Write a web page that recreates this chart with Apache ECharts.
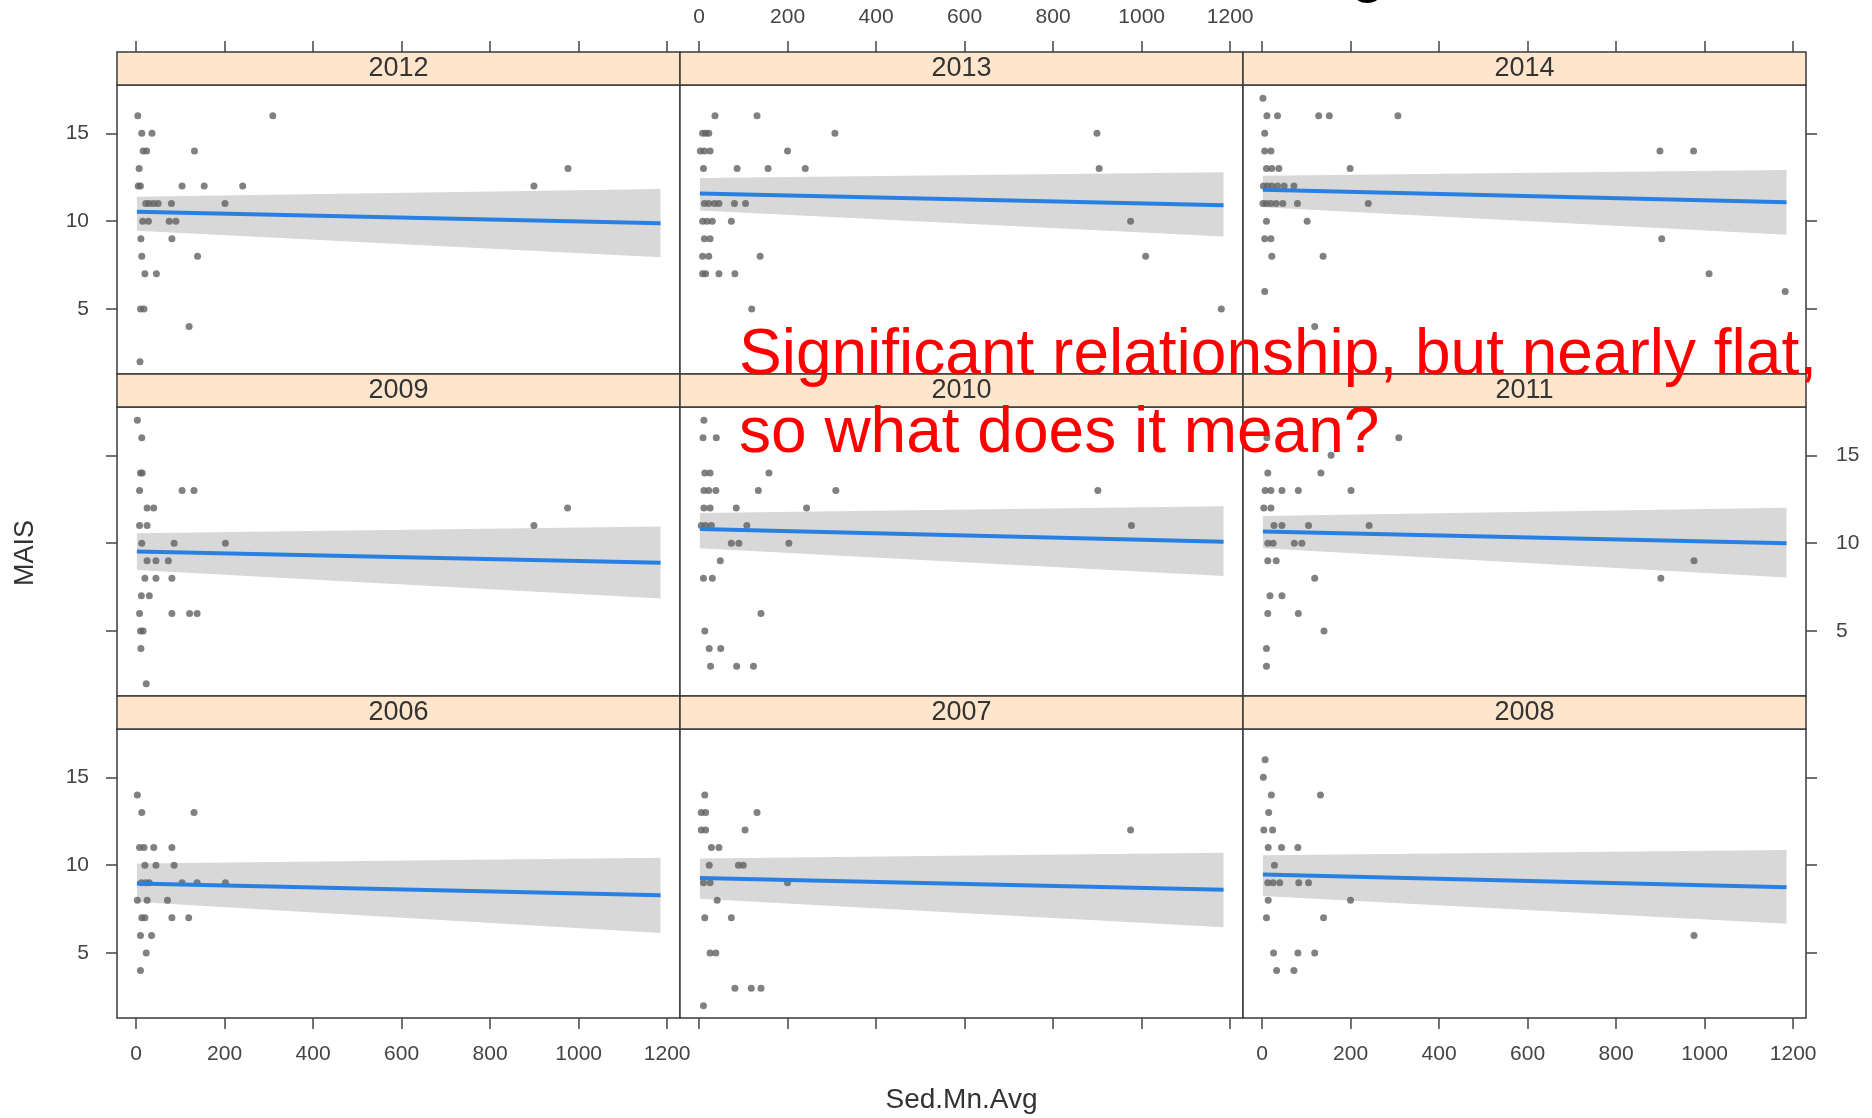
<!DOCTYPE html>
<html><head><meta charset="utf-8">
<script src="https://cdn.jsdelivr.net/npm/echarts@6/dist/echarts.min.js"></script>
<style>html,body{margin:0;padding:0;background:#fff}#c{width:1872px;height:1118px}</style>
</head><body><div id="c"></div>
<script>
// ---------- data ----------
const panelYears = ['2012','2013','2014','2009','2010','2011','2006','2007','2008'];

const sed2012  = [4,309,13,36,16,24,132,7,976,5,10,104,154,241,899,22,30,40,50,80,201,15,28,75,90,11,81,13,139,20,46,10,18,120,9];
const mais2012 = [16,16,15,15,14,14,14,13,13,12,12,12,12,12,12,11,11,11,11,11,11,10,10,10,10,9,9,8,8,7,7,5,5,4,2];

const sed2013  = [36,131,8,15,22,307,899,3,12,25,200,10,86,156,240,904,12,22,35,45,80,105,8,18,30,73,975,12,25,8,22,138,1009,8,15,45,81,119,1180];
const mais2013 = [16,16,15,15,15,15,15,14,14,14,14,13,13,13,13,13,11,11,11,11,11,11,10,10,10,10,10,9,9,8,8,8,8,7,7,7,7,5,5];

const sed2014  = [2,11,35,128,152,307,6,6,20,899,975,10,22,38,199,3,12,22,35,50,72,2,10,20,32,47,80,240,10,102,6,20,903,22,138,1010,6,1182,119];
const mais2014 = [17,16,16,16,16,16,15,14,14,14,14,13,13,13,13,12,12,12,12,12,12,11,11,11,11,11,11,11,10,10,9,9,9,8,8,7,6,6,4];

const sed2009  = [3,13,10,14,8,104,131,25,40,975,8,25,899,13,86,202,25,45,73,20,45,81,12,30,8,81,121,138,10,16,11,23];
const mais2009 = [17,16,14,14,13,13,13,12,12,12,11,11,11,10,10,10,9,9,9,8,8,8,7,7,6,6,6,6,5,5,4,2];

const sed2010  = [11,9,39,13,25,158,11,22,38,134,309,901,11,25,84,243,5,15,28,108,977,73,90,203,48,10,30,140,13,23,49,26,85,123];
const mais2010 = [17,16,16,14,14,14,13,13,13,13,13,13,12,12,12,12,11,11,11,11,11,10,10,10,9,8,8,6,5,4,4,3,3,3];

const sed2011  = [11,309,156,13,133,7,20,45,82,201,4,20,27,45,105,242,13,25,73,90,13,32,976,119,901,18,45,13,82,140,10,10];
const mais2011 = [16,16,15,14,14,13,13,13,13,13,12,12,11,11,11,11,10,10,10,10,9,9,9,8,8,7,7,6,6,5,4,3];

const sed2006  = [3,13,131,8,18,40,81,20,45,86,12,22,30,104,138,202,3,25,71,13,20,81,119,10,35,23,10];
const mais2006 = [14,13,13,11,11,11,11,10,10,10,9,9,9,9,9,9,8,8,8,7,7,7,7,6,6,5,4];

const sed2007  = [13,5,15,131,5,15,104,975,28,45,23,89,100,10,25,200,41,13,73,25,38,81,118,140,10];
const mais2007 = [14,13,13,13,12,12,12,12,11,11,10,10,10,9,9,9,8,7,7,5,5,3,3,3,2];

const sed2008  = [7,3,21,132,15,4,24,14,44,81,28,13,25,40,83,105,14,200,10,139,976,26,81,119,33,72];
const mais2008 = [16,15,14,14,13,12,12,11,11,11,10,9,9,9,9,9,8,8,7,7,6,5,5,5,4,4];

// fitted line (MAIS at the two ends of the fit) and confidence band, per panel (same order as panelYears)
const fitX           = [2, 1185];
const fitStart       = [10.54, 11.58, 11.79, 9.52, 10.80, 10.67, 8.95, 9.27, 9.47];
const fitEnd         = [9.88, 10.90, 11.07, 8.89, 10.08, 10.00, 8.28, 8.60, 8.74];
const bandUpperStart = [11.39, 12.46, 12.59, 10.57, 11.72, 11.54, 10.10, 10.38, 10.57];
const bandLowerStart = [9.46, 10.60, 10.79, 8.47, 9.71, 9.71, 7.90, 8.09, 8.24];
const bandUpperEnd   = [11.83, 12.78, 12.91, 10.95, 12.10, 12.02, 10.42, 10.71, 10.86];
const bandLowerEnd   = [7.94, 9.12, 9.23, 6.85, 8.13, 8.04, 6.14, 6.46, 6.66];

const xTicks = [0, 200, 400, 600, 800, 1000, 1200];
const yTicks = [5, 10, 15];
const xTitle = 'Sed.Mn.Avg';
const yTitle = 'MAIS';
const noteLine1 = 'Significant relationship, but nearly flat,';
const noteLine2 = 'so what does it mean?';

const sedByPanel  = [sed2012, sed2013, sed2014, sed2009, sed2010, sed2011, sed2006, sed2007, sed2008];
const maisByPanel = [mais2012, mais2013, mais2014, mais2009, mais2010, mais2011, mais2006, mais2007, mais2008];

// ---------- layout ----------
const FONT = '"Liberation Sans", Arial, sans-serif';
const colLeft = [117, 680, 1243];
const rowTop = [85, 407, 729];
const panelW = 563, panelH = 289, stripH = 33;
const X_MIN = -43, X_MAX = 1229, Y_MIN = 1.3, Y_MAX = 17.75;
const tickColor = '#444', borderColor = '#3a3a3a';
const plain = v => String(v);

const grids = [], xAxes = [], yAxes = [], series = [], graphics = [];

panelYears.forEach((yr, i) => {
  const r = Math.floor(i / 3), c = i % 3;
  const left = colLeft[c], top = rowTop[r];
  grids.push({left: left, top: top, width: panelW, height: panelH, show: true,
    borderColor: borderColor, borderWidth: 1.5, backgroundColor: '#fff'});

  const xShowTicks = (r === 0 || r === 2);
  const xShowLabels = (r === 0 && c === 1) || (r === 2 && c !== 1);
  xAxes.push({
    type: 'value', gridIndex: i, min: X_MIN, max: X_MAX,
    position: r === 0 ? 'top' : 'bottom',
    offset: r === 0 ? stripH : 0,
    splitLine: {show: false},
    axisLine: {show: false, onZero: false},
    axisTick: {show: xShowTicks, length: 11, customValues: xTicks,
      lineStyle: {color: tickColor, width: 1.5}},
    axisLabel: {show: xShowLabels, customValues: xTicks, margin: r === 0 ? 24 : 26, formatter: plain,
      color: tickColor, fontSize: 21, fontFamily: FONT}
  });

  const yShowTicks = (c === 0 || c === 2);
  const yShowLabels = (c === 0 && r !== 1) || (c === 2 && r === 1);
  yAxes.push({
    type: 'value', gridIndex: i, min: Y_MIN, max: Y_MAX,
    position: c === 2 ? 'right' : 'left',
    splitLine: {show: false},
    axisLine: {show: false, onZero: false},
    axisTick: {show: yShowTicks, length: 11, customValues: yTicks,
      lineStyle: {color: tickColor, width: 1.5}},
    axisLabel: {show: yShowLabels, customValues: yTicks, margin: c === 2 ? 30 : 28, formatter: plain,
      color: tickColor, fontSize: 21, fontFamily: FONT}
  });

  // confidence band
  series.push({
    type: 'custom', xAxisIndex: i, yAxisIndex: i, z: 1, silent: true,
    data: [[fitX[0], bandUpperStart[i], bandLowerStart[i], fitX[1], bandUpperEnd[i], bandLowerEnd[i]]],
    renderItem: function (params, api) {
      const p1 = api.coord([api.value(0), api.value(1)]);
      const p2 = api.coord([api.value(3), api.value(4)]);
      const p3 = api.coord([api.value(3), api.value(5)]);
      const p4 = api.coord([api.value(0), api.value(2)]);
      return {type: 'polygon', shape: {points: [p1, p2, p3, p4]}, style: {fill: '#d8d8d8'}};
    }
  });
  // points
  series.push({
    type: 'scatter', xAxisIndex: i, yAxisIndex: i, z: 2, silent: true,
    symbolSize: 7, itemStyle: {color: '#616161'},
    data: sedByPanel[i].map((x, k) => [x, maisByPanel[i][k]])
  });
  // fitted line
  series.push({
    type: 'line', xAxisIndex: i, yAxisIndex: i, z: 3, silent: true,
    showSymbol: false, symbol: 'none',
    lineStyle: {color: '#2a80e2', width: 4},
    data: [[fitX[0], fitStart[i]], [fitX[1], fitEnd[i]]]
  });

  // strip
  graphics.push({type: 'rect', z: 5,
    shape: {x: left, y: top - stripH, width: panelW, height: stripH},
    style: {fill: '#ffe5cc', stroke: borderColor, lineWidth: 1.5}});
  graphics.push({type: 'text', z: 6, x: left + panelW / 2, y: top - stripH / 2,
    style: {text: yr, fill: '#333', font: '27px ' + FONT, textAlign: 'center', textVerticalAlign: 'middle'}});
});

// axis titles
graphics.push({type: 'text', z: 6, x: colLeft[1] + panelW / 2, y: 1100,
  style: {text: xTitle, fill: '#333', font: '28px ' + FONT, textAlign: 'center', textVerticalAlign: 'middle'}});
graphics.push({type: 'text', z: 6, x: 26, y: 553, rotation: Math.PI / 2,
  style: {text: yTitle, fill: '#333', font: '27px ' + FONT, textAlign: 'center', textVerticalAlign: 'middle'}});

// cut-off title glyph at top
graphics.push({type: 'text', z: 100, x: 1350, y: -28,
  style: {text: 'g', fill: '#000', font: '64px ' + FONT, textAlign: 'left', textVerticalAlign: 'middle'}});

// red annotation
graphics.push({type: 'text', z: 100, x: 739, y: 356,
  style: {text: noteLine1, fill: '#ff0000', font: '64px ' + FONT, textAlign: 'left', textVerticalAlign: 'middle'}});
graphics.push({type: 'text', z: 100, x: 739, y: 434,
  style: {text: noteLine2, fill: '#ff0000', font: '64px ' + FONT, textAlign: 'left', textVerticalAlign: 'middle'}});

const chart = echarts.init(document.getElementById('c'), null, {renderer: 'canvas'});
chart.setOption({
  animation: false,
  backgroundColor: '#fff',
  grid: grids, xAxis: xAxes, yAxis: yAxes, series: series,
  graphic: {elements: graphics}
});
</script></body></html>
